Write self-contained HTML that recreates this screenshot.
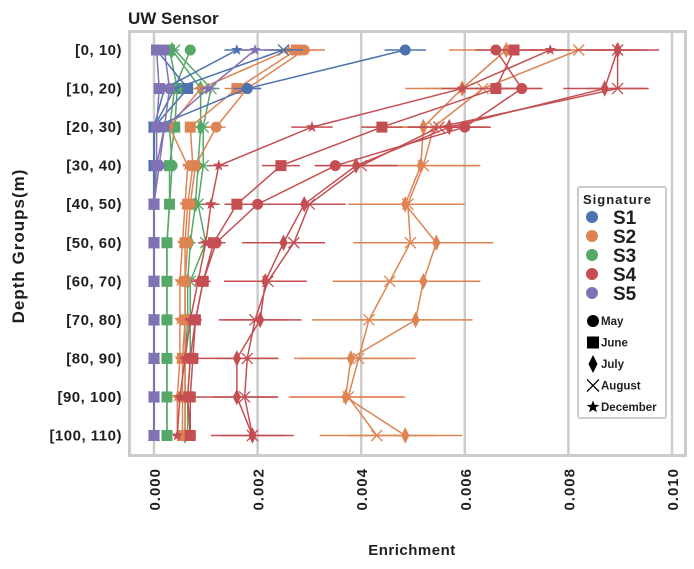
<!DOCTYPE html><html><head><meta charset="utf-8"><style>
body{margin:0;background:#fff}
text{font-family:"Liberation Sans",Arial,sans-serif;font-weight:bold;fill:#1f1f1f}
</style></head><body>
<svg id="s" width="694" height="564" xmlns="http://www.w3.org/2000/svg">
<rect x="0" y="0" width="694" height="564" fill="#fff"/>
<text x="128" y="24" font-size="17">UW Sensor</text>
<text transform="translate(24,246) rotate(-90)" text-anchor="middle" font-size="17" letter-spacing="1">Depth Groups(m)</text>
<text x="412" y="555" text-anchor="middle" font-size="15" letter-spacing="0.5">Enrichment</text>
<g id="grid"></g>
<g id="plot"></g>
<rect x="129.5" y="31.5" width="556" height="424" fill="none" stroke="#cccccc" stroke-width="3"/>
<g id="leg"></g>
</svg>
<script>
const NS="http://www.w3.org/2000/svg",s=document.getElementById('s');
function el(p,t,a,tx){const e=document.createElementNS(NS,t);for(const k in a)e.setAttribute(k,a[k]);if(tx!==undefined)e.textContent=tx;document.getElementById(p)?document.getElementById(p).appendChild(e):p.appendChild(e);return e;}
const X=v=>154+v*51.8, Y=i=>50+i*38.55;
const labs=["[0, 10)","[10, 20)","[20, 30)","[30, 40)","[40, 50)","[50, 60)","[60, 70)","[70, 80)","[80, 90)","[90, 100)","[100, 110)"];
for(let k=0;k<=5;k++){const x=X(k*2);el('grid','line',{x1:x,x2:x,y1:32,y2:455,stroke:'#cccccc','stroke-width':2.5});
el(s,'text',{transform:`translate(${x+6},468) rotate(-90)`,'text-anchor':'end','font-size':15,'letter-spacing':'1'},(k*0.002).toFixed(3));}
labs.forEach((l,i)=>el(s,'text',{x:122,y:Y(i)+5,'text-anchor':'end','font-size':15,'letter-spacing':'0.5'},l));
const C={1:'#4c72b0',2:'#dd8452',3:'#55a868',4:'#c44e52',5:'#8172b3'};
const D=[
[3,'o',[0.7,0.4,0.3,0.35,0.3,0.25,0.25,0.25,0.25,0.25,0.25]],
[3,'s',[0.3,0.45,0.4,0.3,0.3,0.25,0.25,0.25,0.25,0.25,0.25]],
[3,'x',[0.4,1.1,0.95,0.95,0.85,1.0,0.7,0.7,0.7,0.65,0.65]],
[3,'d',[0.35,0.9,0.9,0.85,0.8,0.7,0.65,0.65,0.6,0.6,0.6]],
[2,'o',[2.9,1.8,1.2,0.8,0.7,0.65,0.6,0.6,0.6,0.6,0.6]],
[2,'s',[2.75,1.6,0.7,0.75,0.65,0.6,0.6,0.6,0.55,0.55,0.55]],
[2,'*',[2.6,0.9,0.3,0.65,0.6,0.55,0.5,0.5,0.5,0.45,0.45]],
[2,'x',[8.2,6.35,5.4,5.2,4.9,4.95,4.55,4.15,3.95,3.75,4.3],1.1],
[2,'d',[6.8,5.95,5.2,5.15,4.85,5.45,5.2,5.05,3.8,3.7,4.85],1.1],
[4,'o',[6.6,7.1,6.0,3.5,2.0,1.2,0.95,0.8,0.7,0.65,0.7]],
[4,'s',[6.95,6.6,4.4,2.45,1.6,1.15,0.95,0.8,0.75,0.7,0.7]],
[4,'*',[7.65,5.95,3.05,1.25,1.1,1.0,0.85,0.7,0.6,0.5,0.45]],
[4,'d',[8.95,8.7,5.7,3.9,2.9,2.5,2.15,2.05,1.6,1.6,1.9],0.8],
[4,'x',[8.95,8.95,5.5,4.0,3.0,2.7,2.2,1.95,1.8,1.75,1.9],0.6],
[1,'o',[4.85,1.8,0,0,0,0,0,0,0,0,0]],
[1,'s',[0.05,0.65,0,0,0,0,0,0,0,0,0]],
[1,'*',[1.6,0.2,0,0,0,0,0,0,0,0,0]],
[1,'x',[2.5,0.4,0,0,0,0,0,0,0,0,0]],
[5,'o',[0.2,0.3,0.2,0.1,0,0,0,0,0,0,0]],
[5,'s',[0.05,0.1,0.05,0.05,0,0,0,0,0,0,0]],
[5,'*',[1.95,1.05,0.2,0.05,0,0,0,0,0,0,0]]];
function mk(g,t,x,y,c,r){r=r||5.5;
 if(t=='o')el(g,'circle',{cx:x,cy:y,r:r,fill:c});
 else if(t=='s')el(g,'rect',{x:x-r,y:y-r,width:2*r,height:2*r,fill:c});
 else if(t=='d')el(g,'polygon',{points:`${x},${y-r*1.5} ${x+r*0.75},${y} ${x},${y+r*1.5} ${x-r*0.75},${y}`,fill:c});
 else if(t=='x')el(g,'path',{d:`M${x-r},${y-r}L${x+r},${y+r}M${x-r},${y+r}L${x+r},${y-r}`,stroke:c,'stroke-width':1.3,fill:'none'});
 else {let p=[];for(let k=0;k<10;k++){const a=-Math.PI/2+k*Math.PI/5,rr=k%2?r*0.45:r*1.1;p.push((x+rr*Math.cos(a)).toFixed(1)+','+(y+rr*Math.sin(a)).toFixed(1));}el(g,'polygon',{points:p.join(' '),fill:c});}
}
const P=document.getElementById('plot');
D.forEach(([sg,m,v,e])=>{const c=C[sg];
 el(P,'polyline',{points:v.map((a,i)=>X(a)+','+Y(i)).join(' '),fill:'none',stroke:c,'stroke-width':1.5});
 v.forEach((a,i)=>{let w=e!==undefined?e:Math.min(0.4,Math.max(0.08,a*0.15));el(P,'line',{x1:X(a-w),x2:X(a+w),y1:Y(i),y2:Y(i),stroke:c,'stroke-width':1.5});mk(P,m,X(a),Y(i),c);});
});
const L=document.getElementById('leg');
el(L,'rect',{x:578,y:187,width:88,height:231,fill:'#fff',stroke:'#cccccc','stroke-width':2,rx:2});
el(L,'text',{x:583,y:204,'font-size':13,'letter-spacing':'1'},'Signature');
[1,2,3,4,5].forEach((k,i)=>{el(L,'circle',{cx:592,cy:217+i*19,r:6,fill:C[k]});el(L,'text',{x:613,y:224+i*19,'font-size':19},'S'+k);});
[['o','May'],['s','June'],['d','July'],['x','August'],['*','December']].forEach(([m,t],i)=>{const y=321+i*21.5;mk(L,m,593,y,'#000',6);el(L,'text',{x:601,y:y+4,'font-size':11.5},t);});
</script>
</body></html>
